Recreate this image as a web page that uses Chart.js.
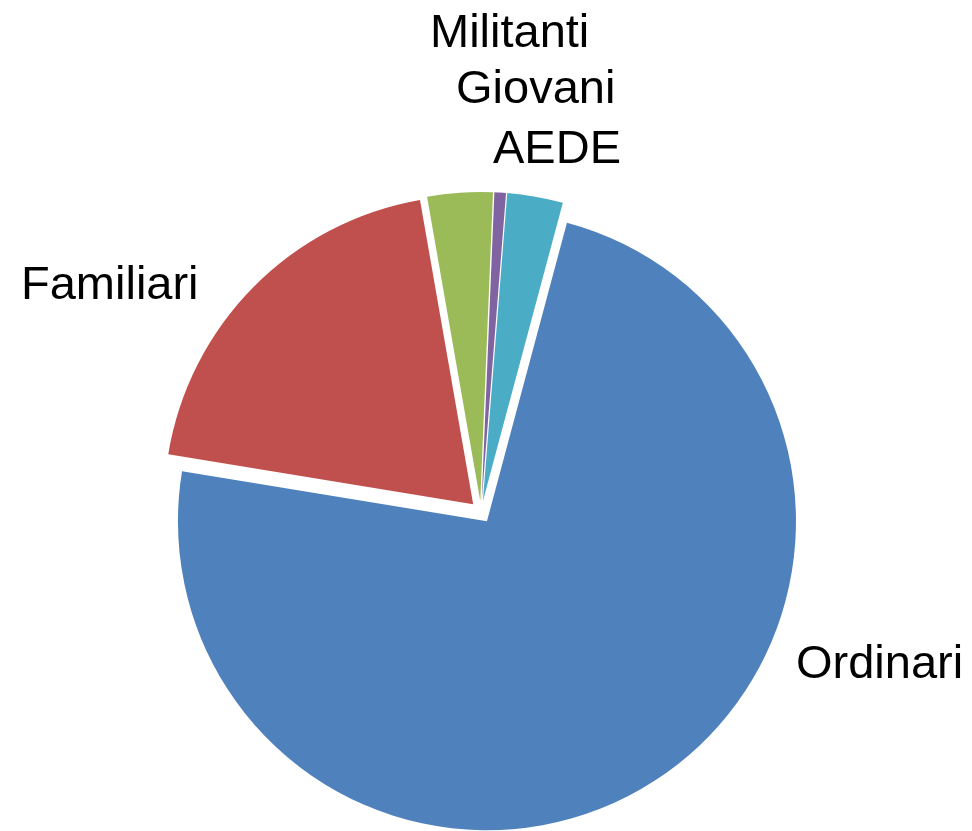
<!DOCTYPE html>
<html>
<head>
<meta charset="utf-8">
<script src="https://cdn.jsdelivr.net/npm/chart.js@4"></script>
<style>
  html, body { margin: 0; padding: 0; background: #fff; }
  #wrap { width: 972px; height: 831px; }
</style>
</head>
<body>
<div id="wrap"><canvas id="c" width="972" height="831"></canvas></div>
<script>
const labels = ["Ordinari", "Familiari", "Militanti", "Giovani", "AEDE"];
const values = [73.2, 19.6, 3.4, 0.6, 2.9];
const colors = ["#4F81BD", "#C0504D", "#9BBB59", "#8064A2", "#4BACC6"];

// where each label sits (left edge, baseline)
const labelPos = [[796, 678], [21, 299], [430, 47], [456, 103], [493, 163]];

const EXPLODE = 11; // px each slice is pulled out

const labelPlugin = {
  id: "pieLabels",
  afterDatasetsDraw(chart) {
    const ctx = chart.ctx;
    ctx.save();
    ctx.font = "47px 'Liberation Sans', Arial, sans-serif";
    ctx.fillStyle = "#000";
    ctx.textAlign = "left";
    ctx.textBaseline = "alphabetic";
    chart.data.labels.forEach((l, i) => {
      ctx.fillText(l, labelPos[i][0], labelPos[i][1]);
    });
    ctx.restore();
  }
};

// exploded pie: move each arc's centre out along its mid angle
// (chart.js' own offset also trims the arc ends, which opens gaps between the thin slices)
const explode = {
  id: "explode",
  afterDatasetUpdate(chart, args) {
    args.meta.data.forEach(arc => {
      const mid = (arc.startAngle + arc.endAngle) / 2;
      arc.x += Math.cos(mid) * EXPLODE;
      arc.y += Math.sin(mid) * EXPLODE;
    });
  }
};

new Chart(document.getElementById("c"), {
  type: "pie",
  data: {
    labels: labels,
    datasets: [{
      data: values,
      backgroundColor: colors,
      borderWidth: 0,
      hoverOffset: 0
    }]
  },
  options: {
    responsive: false,
    animation: false,
    rotation: 15,
    radius: 309,
    layout: { padding: { top: 200, bottom: 7, left: 0, right: 10 } },
    plugins: {
      legend: { display: false },
      tooltip: { enabled: false }
    }
  },
  plugins: [labelPlugin, explode]
});
</script>
</body>
</html>
